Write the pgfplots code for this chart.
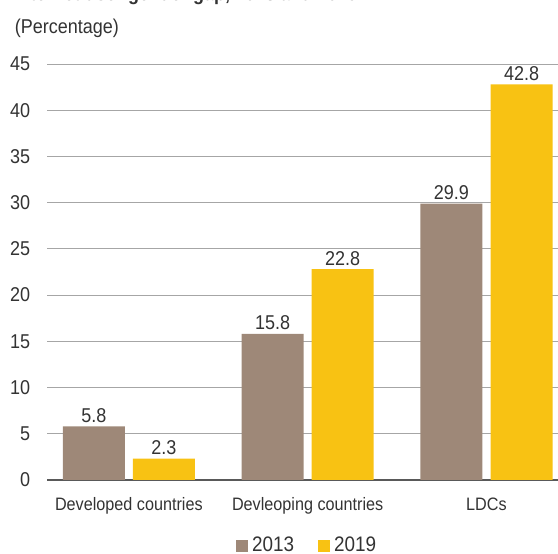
\documentclass[border=0pt]{standalone}
\usepackage{pgfplots}
\pgfplotsset{compat=1.18}
\usepackage{fontspec}
\setmainfont[FakeStretch=0.9]{Liberation Sans}
\definecolor{cA}{HTML}{9E8878}
\definecolor{cB}{HTML}{F8C213}
\definecolor{txt}{HTML}{333333}
\begin{document}
\begin{tikzpicture}[x=1pt,y=1pt]
\fontsize{20}{24}\selectfont
\begin{axis}[
  at={(47pt,74pt)}, anchor=south west,
  scale only axis, width=511pt, height=416pt,
  xmin=-0.458, xmax=2.40, ymin=0, ymax=45,
  ybar, bar width=62pt, bar shift=0pt,
  xtick={0,1,2}, xticklabels={Developed countries,Devleoping countries,LDCs},
  ytick={0,5,...,45},
  axis x line*=bottom, axis y line*=left,
  y axis line style={draw=none},
  x axis line style={draw=black!65, line width=1.4pt, -},
  ymajorgrids, grid style={draw=black!35, line width=0.8pt},
  major tick length=0pt,
  tick label style={text=txt, font=\fontsize{20}{24}\selectfont},
  yticklabel style={anchor=east, xshift=-10pt},
  xticklabel style={yshift=-11pt, font=\fontsize{18}{22}\selectfont},
  /pgf/number format/assume math mode=true,
  nodes near coords={\pgfmathprintnumber[fixed,precision=1,fixed zerofill]{\pgfplotspointmeta}},
  every node near coord/.style={text=txt, font=\fontsize{20}{24}\selectfont, yshift=-3pt},
]
\addplot[fill=cA, draw=none] coordinates {(-0.196,5.8) (0.804,15.8) (1.804,29.9)};
\addplot[fill=cB, draw=none] coordinates {(0.196,2.3) (1.196,22.8) (2.196,42.8)};
\end{axis}
\node[anchor=west, text=txt] at (8pt,526pt) {(Percentage)};
\begin{scope}
\clip (0,0) rectangle (558pt,554pt);
\node[anchor=base west, font=\bfseries\fontsize{20}{24}\selectfont, text=txt, inner sep=0pt] at (14pt,553pt) {Internet user gender gap, 2013 and 2019};
\end{scope}
\fill[cA] (236pt,2pt) rectangle (248pt,14pt);
\node[anchor=base west, text=txt, font=\fontsize{21}{25}\selectfont, inner sep=0pt] at (252pt,2pt) {2013};
\fill[cB] (318pt,2pt) rectangle (330pt,14pt);
\node[anchor=base west, text=txt, font=\fontsize{21}{25}\selectfont, inner sep=0pt] at (334pt,2pt) {2019};
\pgfresetboundingbox
\useasboundingbox (0,0) rectangle (558pt,554pt);
\end{tikzpicture}
\end{document}
